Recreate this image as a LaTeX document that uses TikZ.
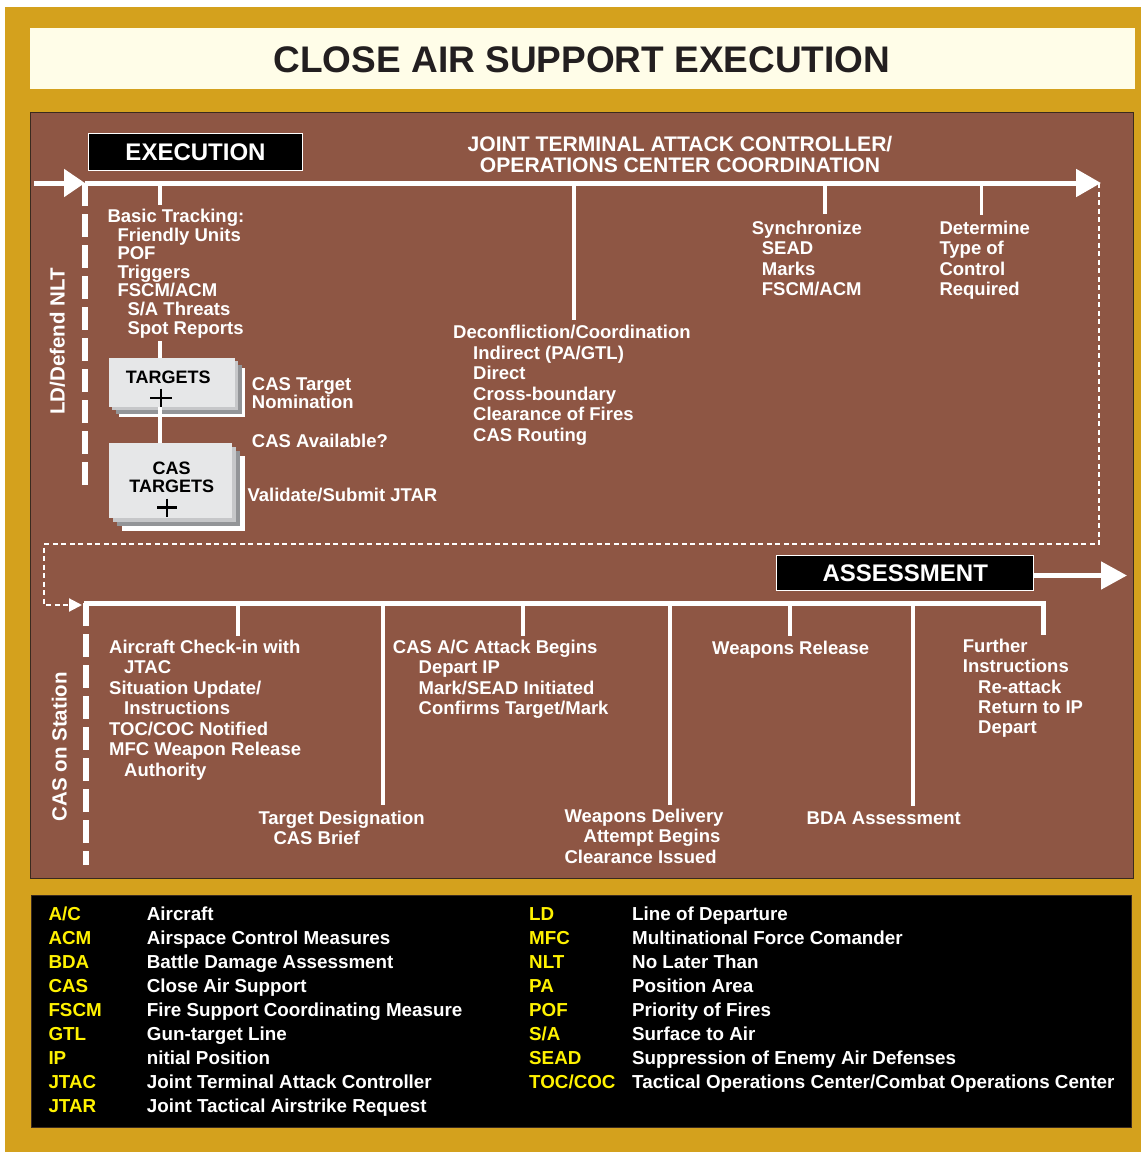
\documentclass[tikz,border=0pt]{standalone}
\usepackage{fontspec}
\setmainfont{Liberation Sans}
\usetikzlibrary{arrows.meta}
\definecolor{goldc}{HTML}{D4A11D}
\definecolor{creamc}{HTML}{FFFDE8}
\definecolor{brownc}{HTML}{8E5644}
\definecolor{darkb}{HTML}{3A2A1E}
\definecolor{titlec}{HTML}{231F20}
\definecolor{legy}{HTML}{FFF200}
\definecolor{frontg}{HTML}{E6E7E8}
\definecolor{midg}{HTML}{C6C7C9}
\definecolor{darkg}{HTML}{939598}
\newcommand\wline[4]{\node[txt] (#1) at (#2,#3) {#4};}
\newcommand\legrow[6]{\node[legab] (#1a) at (#2,#4) {#5};\node[legdef] (#1d) at (#3,#4) {#6};}
\newcommand\stacklayers[5]{%
  \fill[white] (#1+3*#5,#2+3*#5) rectangle (#3+3*#5,#4+3*#5);
  \fill[darkg] (#1+2*#5,#2+2*#5) rectangle (#3+2*#5,#4+2*#5);
  \fill[midg] (#1+#5,#2+#5) rectangle (#3+#5,#4+#5);}
\begin{document}
\begin{tikzpicture}[x=1pt,y=-1pt,
  txt/.style={text=white,font=\fontsize{18.5}{20}\selectfont\bfseries,inner sep=0pt,anchor=base west},
  hdr/.style={text=white,font=\fontsize{21.1}{22}\selectfont\bfseries,inner sep=0pt,anchor=base},
  rot/.style={text=white,font=\fontsize{20.5}{22}\selectfont\bfseries,inner sep=0pt,anchor=base,rotate=90},
  secbox/.style={fill=black,draw=white,line width=1pt,text=white,font=\fontsize{24}{25}\selectfont\bfseries,inner sep=0pt},
  frontbox/.style={fill=frontg,draw=none,inner sep=0pt},
  boxtxt/.style={text=black,font=\fontsize{18}{20}\selectfont\bfseries,inner sep=0pt,anchor=base},
  plusline/.style={draw=black,line width=2.2pt},
  mainline/.style={draw=white,line width=5pt},
  tickline/.style={draw=white,line width=3.8pt},
  conn/.style={draw=white,line width=4pt},
  dashline/.style={draw=white,line width=6pt,dash pattern=on 23pt off 8pt},
  dotline/.style={draw=white,line width=2.2pt,dash pattern=on 5pt off 3.5pt},
  legab/.style={text=legy,font=\fontsize{18.8}{20}\selectfont\bfseries,inner sep=0pt,anchor=base west},
  legdef/.style={text=white,font=\fontsize{18.8}{20}\selectfont\bfseries,inner sep=0pt,anchor=base west}]
% canvas
\path[use as bounding box,fill=white] (0,0) rectangle (1144,1154);
\fill[goldc] (5,7) rectangle (1141,1152);
\fill[creamc] (30,28) rectangle (1135,89);
\filldraw[fill=brownc,draw=darkb,line width=1pt] (30,112) rectangle (1133,878);
\filldraw[fill=black,draw=darkb,line width=1pt] (31,895) rectangle (1131,1127);
\node[text=titlec,font=\fontsize{37}{40}\selectfont\bfseries,inner sep=0pt,anchor=base] (title) at (582,72) {CLOSE AIR SUPPORT EXECUTION};

% ===== EXECUTION section =====
\node[secbox,minimum width=214pt,minimum height=37.5pt] (exec) at (195.5,152.2) {EXECUTION};
\node[hdr] (jt1) at (680,151.3) {JOINT TERMINAL ATTACK CONTROLLER/};
\node[hdr] (jt2) at (680,172.3) {OPERATIONS CENTER COORDINATION};
\node[rot] (ldn) at (64.5,341.5) {LD/Defend NLT};

\coordinate (lstart) at (34,183);
\coordinate (tl) at (85,183);
\coordinate (tr) at (1101,183);
\coordinate (ldend) at (85,485);
\draw[mainline,-{Triangle[length=21pt,width=27pt]}] (lstart) -- (tl);
\draw[dashline] (tl) -- (ldend);
\draw[mainline,-{Triangle[length=25pt,width=27pt]}] (tl) -- (tr);

\coordinate (k1) at (160,183);
\coordinate (k2) at (574,183);
\coordinate (k3) at (825,183);
\coordinate (k4) at (981.5,183);
\draw[tickline] (k1) -- ++(0,22);
\draw[tickline] (k2) -- ++(0,137);
\draw[tickline] (k3) -- ++(0,31);
\draw[tickline] (k4) -- ++(0,32);

\wline{bt1}{107.3}{222}{Basic Tracking:}
\wline{bt2}{117.3}{241}{Friendly Units}
\wline{bt3}{117.3}{259.5}{POF}
\wline{bt4}{117.3}{278}{Triggers}
\wline{bt5}{117.3}{296.5}{FSCM/ACM}
\wline{bt6}{127.3}{315.5}{S/A Threats}
\wline{bt7}{127.3}{334.5}{Spot Reports}

% stacked boxes
\stacklayers{109}{358}{235}{407}{3.3}
\node[frontbox,minimum width=126pt,minimum height=49pt] (targets) at (172,382.5) {};
\node[boxtxt] (targetsT) at (168.3,383) {TARGETS};
\draw[plusline] (150,398) -- (172,398) (161,388.5) -- (161,407.5);

\stacklayers{109}{443}{232}{518}{4.2}
\node[frontbox,minimum width=123pt,minimum height=75pt] (castgt) at (170.5,480.5) {};
\node[boxtxt] (castgtA) at (171.7,474) {CAS};
\node[boxtxt] (castgtB) at (171.7,492) {TARGETS};
\draw[plusline] (157,507.5) -- (177,507.5) (167,498.5) -- (167,516.5);

\coordinate (trk) at (160,341);
\draw[conn] (trk) -- (trk |- targets.north);
\draw[conn] (targets.south -| trk) -- (trk |- castgt.north);

\wline{nom1}{251.7}{390}{CAS Target}
\wline{nom2}{251.7}{408.5}{Nomination}
\wline{avl}{251.7}{447.5}{CAS Available?}
\wline{val}{247.3}{501.5}{Validate/Submit JTAR}

\wline{dc1}{453}{338.5}{Deconfliction/Coordination}
\wline{dc2}{473}{359}{Indirect (PA/GTL)}
\wline{dc3}{473}{379.5}{Direct}
\wline{dc4}{473}{400}{Cross-boundary}
\wline{dc5}{473}{420.5}{Clearance of Fires}
\wline{dc6}{473}{441}{CAS Routing}

\wline{sy1}{751.7}{234}{Synchronize}
\wline{sy2}{761.7}{254.5}{SEAD}
\wline{sy3}{761.7}{275}{Marks}
\wline{sy4}{761.7}{295.5}{FSCM/ACM}

\wline{de1}{939.3}{234}{Determine}
\wline{de2}{939.3}{254.5}{Type of}
\wline{de3}{939.3}{275}{Control}
\wline{de4}{939.3}{295.5}{Required}

% transition dotted path
\coordinate (dA) at (1099,183);
\coordinate (dB) at (1099,544);
\coordinate (dC) at (44,544);
\coordinate (dD) at (44,605);
\coordinate (dE) at (82,605);
\draw[dotline,-{Triangle[length=13pt,width=13pt]}] (dA) -- (dB) -- (dC) -- (dD) -- (dE);

% ===== ASSESSMENT section =====
\node[secbox,minimum width=257pt,minimum height=34.7pt] (assess) at (905.3,573.3) {ASSESSMENT};
\coordinate (atip) at (1127,575.5);
\draw[mainline,-{Triangle[length=26pt,width=27pt]}] (assess.east |- atip) -- (atip);

\node[rot] (cas) at (66.5,746.7) {CAS on Station};

\coordinate (bl) at (84,603);
\coordinate (br) at (1043,603);
\coordinate (brd) at (1043,635);
\coordinate (bdl) at (86,603);
\coordinate (bdend) at (86,865);
\draw[mainline,line join=miter] (bl) -- (br) -- (brd);
\draw[dashline] (bdl) -- (bdend);

\coordinate (m1) at (238,603);
\coordinate (m2) at (383.3,603);
\coordinate (m3) at (523.3,603);
\coordinate (m4) at (670,603);
\coordinate (m5) at (790,603);
\coordinate (m6) at (913.3,603);
\draw[tickline] (m1) -- ++(0,33);
\draw[tickline] (m2) -- ++(0,202);
\draw[tickline] (m3) -- ++(0,33);
\draw[tickline] (m4) -- ++(0,202);
\draw[tickline] (m5) -- ++(0,33);
\draw[tickline] (m6) -- ++(0,203);

\wline{ac1}{109}{653}{Aircraft Check-in with}
\wline{ac2}{124}{673}{JTAC}
\wline{ac3}{109}{694}{Situation Update/}
\wline{ac4}{124}{714}{Instructions}
\wline{ac5}{109}{735}{TOC/COC Notified}
\wline{ac6}{109}{755}{MFC Weapon Release}
\wline{ac7}{124}{776}{Authority}

\wline{td1}{258.3}{824}{Target Designation}
\wline{td2}{273.3}{844}{CAS Brief}

\wline{ca1}{392.7}{653}{CAS A/C Attack Begins}
\wline{ca2}{418.5}{673.5}{Depart IP}
\wline{ca3}{418.5}{694}{Mark/SEAD Initiated}
\wline{ca4}{418.5}{714.5}{Confirms Target/Mark}

\wline{wr}{712}{654.5}{Weapons Release}

\wline{wd1}{564.3}{822}{Weapons Delivery}
\wline{wd2}{583.5}{842.5}{Attempt Begins}
\wline{wd3}{564.3}{863}{Clearance Issued}

\wline{bda}{806.5}{824.5}{BDA Assessment}

\wline{fi1}{962.7}{652}{Further}
\wline{fi2}{962.7}{672.7}{Instructions}
\wline{fi3}{978}{693}{Re-attack}
\wline{fi4}{978}{713}{Return to IP}
\wline{fi5}{978}{733.5}{Depart}

% ===== legend =====
\legrow{l1}{48.3}{146.7}{920}{A/C}{Aircraft}
\legrow{l2}{48.3}{146.7}{944}{ACM}{Airspace Control Measures}
\legrow{l3}{48.3}{146.7}{968}{BDA}{Battle Damage Assessment}
\legrow{l4}{48.3}{146.7}{992}{CAS}{Close Air Support}
\legrow{l5}{48.3}{146.7}{1016}{FSCM}{Fire Support Coordinating Measure}
\legrow{l6}{48.3}{146.7}{1040}{GTL}{Gun-target Line}
\legrow{l7}{48.3}{146.7}{1064}{IP}{nitial Position}
\legrow{l8}{48.3}{146.7}{1088}{JTAC}{Joint Terminal Attack Controller}
\legrow{l9}{48.3}{146.7}{1112}{JTAR}{Joint Tactical Airstrike Request}

\legrow{r1}{529}{632}{920}{LD}{Line of Departure}
\legrow{r2}{529}{632}{944}{MFC}{Multinational Force Comander}
\legrow{r3}{529}{632}{968}{NLT}{No Later Than}
\legrow{r4}{529}{632}{992}{PA}{Position Area}
\legrow{r5}{529}{632}{1016}{POF}{Priority of Fires}
\legrow{r6}{529}{632}{1040}{S/A}{Surface to Air}
\legrow{r7}{529}{632}{1064}{SEAD}{Suppression of Enemy Air Defenses}
\legrow{r8}{529}{632}{1088}{TOC/COC}{Tactical Operations Center/Combat Operations Center}
\end{tikzpicture}
\end{document}
